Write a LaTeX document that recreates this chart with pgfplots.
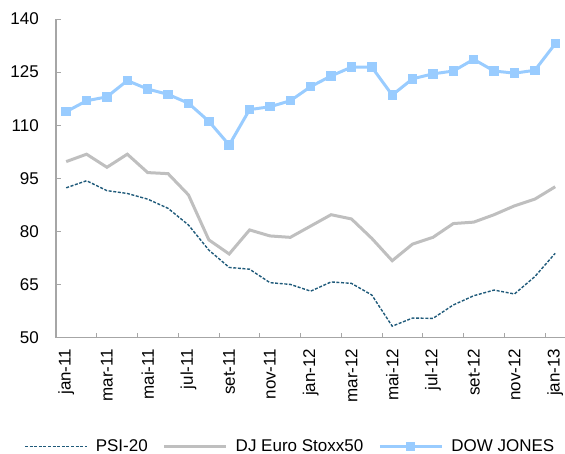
\documentclass[border=0pt]{standalone}
\usepackage{pgfplots}
\pgfplotsset{compat=1.18}
\usepackage{fontspec}
\setmainfont{Liberation Sans}
\definecolor{psi}{RGB}{31,90,122}
\definecolor{djgray}{RGB}{191,191,191}
\definecolor{dow}{RGB}{153,204,255}
\definecolor{axgray}{RGB}{166,166,166}
\begin{document}
\fontsize{17bp}{20bp}\selectfont
\begin{tikzpicture}
\useasboundingbox (-56bp,-116.5bp) rectangle (509bp,337.5bp);
\begin{axis}[
  at={(0,0)}, anchor=south west,
  scale only axis, width=509.4bp, height=318.5bp,
  xmin=-0.5, xmax=24.5, ymin=50, ymax=140,
  axis x line*=bottom, axis y line*=left,
  axis line style={draw=axgray, line width=1.2bp, -},
  every tick/.style={draw=axgray, line width=1bp},
  tick align=inside,
  xtick={0,2,...,24},
  xticklabels={jan-11,mar-11,mai-11,jul-11,set-11,nov-11,jan-12,mar-12,mai-12,jul-12,set-12,nov-12,jan-13},
  major x tick style={draw=none},
  minor xtick={1.5,3.5,...,23.5},
  minor tick length=5bp,
  ytick={50,65,...,140},
  major tick length=5.5bp,
  /pgf/number format/assume math mode=true,
  xticklabel style={rotate=90, anchor=east, inner sep=0pt, font=\fontsize{17bp}{20bp}\selectfont},
  xticklabel shift=11bp,
  yticklabel style={inner sep=0pt, font=\fontsize{17bp}{20bp}\selectfont},
  yticklabel shift=17bp,
  legend columns=3,
  legend style={at={(0.458,-0.343)}, anchor=center, draw=none, fill=none,
    font=\fontsize{17bp}{20bp}\selectfont,
    nodes={inner sep=0pt, anchor=west},
    /tikz/every odd column/.append style={column sep=8bp},
    /tikz/every even column/.append style={column sep=15bp}},
  legend image code/.code={\draw[mark repeat=2,mark phase=2,#1] plot coordinates {(0bp,0bp) (31bp,0bp) (62bp,0bp)};},
]
\addplot[psi, line width=1.4bp, dash pattern=on 3bp off 1.6bp] coordinates {
(0,92.3)(1,94.3)(2,91.5)(3,90.7)(4,89.1)(5,86.5)(6,81.8)(7,74.7)(8,69.8)(9,69.3)(10,65.5)(11,65.0)
(12,63.1)(13,65.7)(14,65.3)(15,62.0)(16,53.2)(17,55.5)(18,55.4)(19,59.2)(20,61.8)(21,63.4)(22,62.3)(23,67.2)(24,73.8)};
\addlegendentry{PSI-20}
\addplot[djgray, line width=3bp] coordinates {
(0,99.7)(1,101.8)(2,98.1)(3,101.8)(4,96.6)(5,96.3)(6,90.3)(7,77.6)(8,73.6)(9,80.4)(10,78.7)(11,78.3)
(12,81.5)(13,84.7)(14,83.5)(15,78.0)(16,71.7)(17,76.4)(18,78.3)(19,82.2)(20,82.6)(21,84.7)(22,87.2)(23,89.1)(24,92.6)};
\addlegendentry{DJ Euro Stoxx50}
\addplot[dow, line width=3bp, mark=square*, mark size=4.2bp, mark options={solid, fill=dow, draw=dow, line width=0pt}] coordinates {
(0,113.8)(1,116.9)(2,118.0)(3,122.6)(4,120.2)(5,118.7)(6,116.2)(7,111.1)(8,104.4)(9,114.4)(10,115.2)(11,116.9)
(12,120.9)(13,123.9)(14,126.4)(15,126.4)(16,118.5)(17,123.1)(18,124.5)(19,125.3)(20,128.6)(21,125.3)(22,124.7)(23,125.5)(24,133.0)};
\addlegendentry{DOW JONES}
\end{axis}
\end{tikzpicture}
\end{document}
